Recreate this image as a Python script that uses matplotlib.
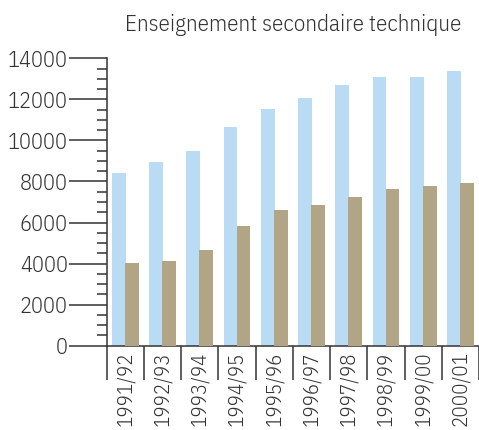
import matplotlib
matplotlib.use("Agg")
import matplotlib.pyplot as plt
import numpy as np

categories = ["1991/92", "1992/93", "1993/94", "1994/95", "1995/96",
              "1996/97", "1997/98", "1998/99", "1999/00", "2000/01"]
series_blue = [8430, 8950, 9500, 10650, 11530, 12060, 12700, 13090, 13090, 13380]
series_tan = [4040, 4120, 4660, 5830, 6610, 6850, 7240, 7630, 7780, 7920]
y_ticks = [0, 2000, 4000, 6000, 8000, 10000, 12000, 14000]
title = "Enseignement secondaire technique"

FONT = ["IBM Plex Sans Condensed", "DejaVu Sans"]
plt.rcParams["font.family"] = FONT
plt.rcParams["font.weight"] = 300

W, H = 479, 430
fig = plt.figure(figsize=(W / 100, H / 100), dpi=100)
ax_left_px, ax_right_px = 106.7, 479
ax_bottom_px, ax_top_px = 345.7, 58.3
ax = fig.add_axes([ax_left_px / W, (H - ax_bottom_px) / H,
                   (ax_right_px - ax_left_px) / W, (ax_bottom_px - ax_top_px) / H])

cat_w = 37.6
x = np.arange(len(categories))
bw = 0.37
off = 0.175
ax.bar(x - off, series_blue, width=bw, color="#B9DCF4", zorder=2)
ax.bar(x + off, series_tan, width=bw, color="#B2A586", zorder=3)

ax.set_xlim(-0.5, -0.5 + (ax_right_px - ax_left_px) / cat_w)
ax.set_ylim(0, 14000)

lc = "#333333"
for s in ["top", "right"]:
    ax.spines[s].set_visible(False)
for s in ["left", "bottom"]:
    ax.spines[s].set_color(lc)
    ax.spines[s].set_linewidth(1.1)

fs = 16

# y ticks
ax.set_yticks(y_ticks)
ax.set_yticklabels([str(v) for v in y_ticks])
ax.set_yticks(np.arange(0, 14001, 500), minor=True)
ax.tick_params(axis="y", which="major", length=27.5, width=1.1, color=lc,
               labelsize=fs, labelcolor="#333333", pad=0.5)
ax.tick_params(axis="y", which="minor", length=7.2, width=1.1, color=lc)

# x ticks: separators as minor ticks, labels at centres
ax.set_xticks(x)
ax.set_xticklabels(categories, rotation=90, va="top", ha="center")
ax.set_xticks(np.arange(-0.5, len(categories), 1.0), minor=True)
ax.tick_params(axis="x", which="major", length=0, labelsize=15,
               labelcolor="#333333", pad=4.0)
ax.tick_params(axis="x", which="minor", length=24.5, width=1.1, color=lc)

fig.text(293 / W, 1 - 31 / H, title, ha="center", va="baseline",
         fontsize=16.7, color="#333333")

fig.savefig("out.png", dpi=100)
